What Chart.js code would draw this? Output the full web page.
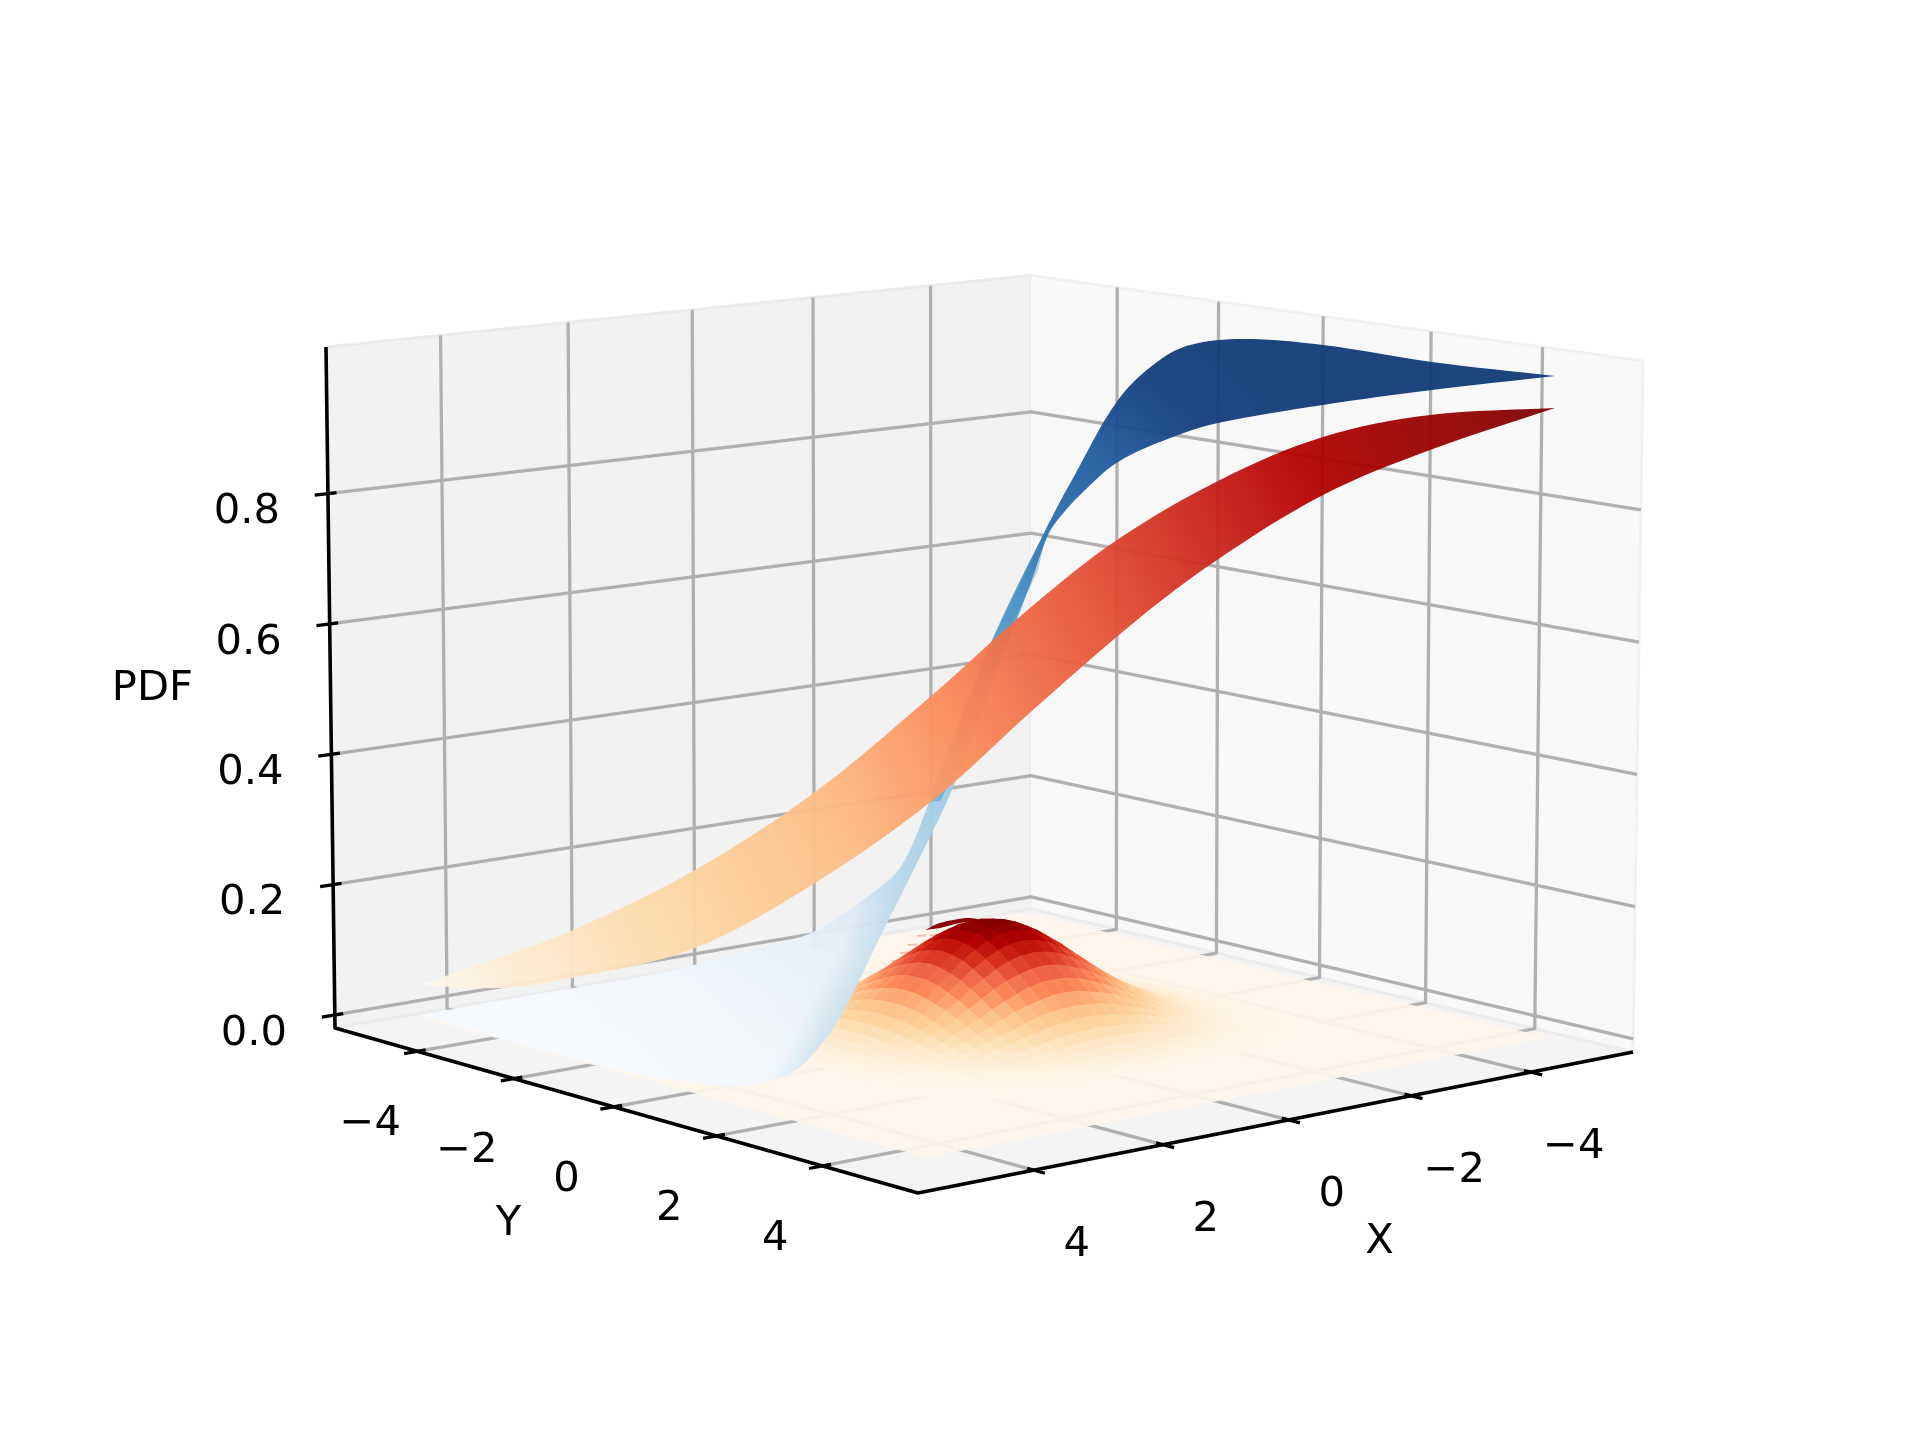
<!DOCTYPE html>
<html>
<head>
<meta charset="utf-8">
<title>PDF surface</title>
<script src="https://cdn.jsdelivr.net/npm/chart.js@4"></script>
<style>
  body { margin: 0; background: #fff; }
  canvas { display: block; }
</style>
</head>
<body>
<canvas id="surfaceChart" width="1920" height="1440"></canvas>
<script>
// --- Axis data ---
const xTicks = [-4, -2, 0, 2, 4];
const yTicks = [-4, -2, 0, 2, 4];
const zTicks = [0, 0.2, 0.4, 0.6, 0.8];
const xTickLabels = ["\u22124", "\u22122", "0", "2", "4"];
const yTickLabels = ["\u22124", "\u22122", "0", "2", "4"];
const zTickLabels = ["0.0", "0.2", "0.4", "0.6", "0.8"];
const axisLimit = 5.75;
const zMin = -0.02;
const zMax = 1.025;
const sheetLimit = 5;

const pdfStep = 0.2;
const pdfPeak = 0.159;
const pdfCentreX = -0.2;
const pdfHeights = [
  [.159, .157, .150, .139, .125, .109, .092, .076, .060, .047, .035, .025, .018, .012, .008, .005, .003],
  [.157, .154, .148, .137, .123, .107, .091, .075, .059, .046, .034, .025, .018, .012, .008, .005, .003],
  [.150, .148, .141, .131, .118, .102, .087, .071, .057, .044, .033, .024, .017, .012, .008, .005, .003],
  [.139, .137, .131, .121, .109, .095, .080, .066, .053, .041, .031, .022, .016, .011, .007, .005, .003],
  [.125, .123, .118, .109, .098, .086, .072, .060, .047, .037, .027, .020, .014, .010, .006, .004, .002],
  [.109, .107, .102, .095, .086, .075, .063, .052, .041, .032, .024, .017, .012, .008, .006, .003, .002],
  [.092, .091, .087, .080, .072, .063, .053, .044, .035, .027, .020, .015, .010, .007, .005, .003, .002],
  [.076, .075, .071, .066, .060, .052, .044, .036, .029, .022, .017, .012, .009, .006, .004, .003, .002],
  [.060, .059, .057, .053, .047, .041, .035, .029, .023, .018, .013, .010, .007, .005, .003, .002, .001],
  [.047, .046, .044, .041, .037, .032, .027, .022, .018, .014, .010, .007, .005, .004, .002, .001, .001],
  [.035, .034, .033, .031, .027, .024, .020, .017, .013, .010, .008, .006, .004, .003, .002, .001, .001],
  [.025, .025, .024, .022, .020, .017, .015, .012, .010, .007, .006, .004, .003, .002, .001, .001, 0],
  [.018, .018, .017, .016, .014, .012, .010, .009, .007, .005, .004, .003, .002, .001, .001, .001, 0],
  [.012, .012, .012, .011, .010, .008, .007, .006, .005, .004, .003, .002, .001, .001, .001, 0, 0],
  [.008, .008, .008, .007, .006, .006, .005, .004, .003, .002, .002, .001, .001, .001, 0, 0, 0],
  [.005, .005, .005, .005, .004, .003, .003, .003, .002, .001, .001, .001, .001, 0, 0, 0, 0],
  [.003, .003, .003, .003, .002, .002, .002, .002, .001, .001, .001, 0, 0, 0, 0, 0, 0]
];

// --- Marginal ribbons, outlines ---
const redUpperX = [420, 500, 573, 695, 815, 930, 1030, 1117, 1220, 1323, 1430, 1555];
const redUpperY = [985, 957, 930, 870, 792, 697, 608, 540, 480, 437, 415, 408];
const redLowerX = [1555, 1430, 1323, 1217, 1137, 1033, 933, 815, 695, 573, 500, 420];
const redLowerY = [408, 450, 495, 560, 620, 710, 800, 883, 948, 978, 988, 985];

const blueUpperX = [1555, 1432, 1323, 1243, 1190, 1157, 1118, 1072, 1048, 990, 930, 900, 867, 813, 740, 640, 573, 447, 420];
const blueUpperY = [376, 362, 345, 339, 345, 362, 400, 480, 525, 645, 800, 868, 897, 932, 953, 977, 988, 1010, 1015];
const blueLowerX = [420, 507, 640, 690, 733, 773, 800, 830, 853, 880, 907, 952, 990, 1030, 1048, 1060, 1080, 1118, 1173, 1218, 1323, 1432, 1555];
const blueLowerY = [1015, 1040, 1075, 1082, 1087, 1080, 1067, 1033, 993, 937, 883, 790, 690, 585, 535, 517, 495, 462, 437, 423, 405, 390, 376];

// darker left side of the narrow blue band, paler shade along the foot of the sheet
const blueCreaseX = [1050, 1027, 990, 960, 930, 941, 972, 1003, 1038];
const blueCreaseY = [520, 570, 645, 720, 800, 800, 720, 645, 570];
const blueFootX = [933, 907, 880, 853, 830, 800, 773, 733, 760, 830, 900];
const blueFootY = [830, 883, 937, 993, 1033, 1067, 1080, 1087, 1000, 930, 868];

// --- Rim of the bump seen through the sheet ---
const domeBackX = [925, 940, 967, 980, 960, 940];
const domeBackY = [930, 923, 918, 920, 923, 928];
const hatchStartX = [917, 908, 900, 892, 884, 876, 868];
const hatchRowY = [936, 945, 953, 961, 969, 977, 985];

// --- Colours ---
const orRd = ["#fff7ec", "#fee8c8", "#fdd49e", "#fdbb84", "#fc8d59", "#ef6548", "#d7301f", "#b30000", "#7f0000"];
const redStopAt = [0, 0.06, 0.225, 0.35, 0.46, 0.62, 0.8, 1];
const redStops = ["#fff7ec", "#feeed8", "#fdd49e", "#fdbb84", "#fc8d59", "#e34a33", "#b30000", "#7f0000"];
const blueStopAt = [0, 0.13, 0.25, 0.3, 0.36, 0.41, 0.51, 0.64, 0.72, 0.81, 0.9, 1];
const blueStops = ["#f5f9fe", "#f0f6fc", "#e6eff9", "#d8e6f4", "#b7d6ea", "#a5cfe6", "#8fc2de", "#5ba3d0", "#2c6fb0", "#1f5a9e", "#123d7c", "#0f3a75"];

const floorCorners = [[335, 1028], [1031, 909], [1633, 1052], [918, 1193]];
const topCorners = [[326, 347], [1031, 275.5], [1643, 361], [920, 447.5]];

// --- 3D box to picture ---
function squareToQuad(q) {
    const [[x0, y0], [x1, y1], [x2, y2], [x3, y3]] = q;
    const dx1 = x1 - x2, dx2 = x3 - x2, sx = x0 - x1 + x2 - x3;
    const dy1 = y1 - y2, dy2 = y3 - y2, sy = y0 - y1 + y2 - y3;
    const den = dx1 * dy2 - dx2 * dy1;
    const g = (sx * dy2 - dx2 * sy) / den;
    const h = (dx1 * sy - sx * dy1) / den;
    const a = x1 - x0 + g * x1, b = x3 - x0 + h * x3;
    const d = y1 - y0 + g * y1, e = y3 - y0 + h * y3;
    return (u, v) => {
        const w = g * u + h * v + 1;
        return [(a * u + b * v + x0) / w, (d * u + e * v + y0) / w];
    };
}
const floorMap = squareToQuad(floorCorners);
const topMap = squareToQuad(topCorners);

function project(x, y, z) {
    const u = (axisLimit - x) / (2 * axisLimit);
    const v = (y + axisLimit) / (2 * axisLimit);
    const f = (z - zMin) / (zMax - zMin);
    const p0 = floorMap(u, v), p1 = topMap(u, v);
    return { x: p0[0] + (p1[0] - p0[0]) * f, y: p0[1] + (p1[1] - p0[1]) * f };
}

// --- Dataset helpers ---
const paintList = [];

function addLine(points, color, width, dash) {
    paintList.push({ data: points, showLine: true, pointRadius: 0, borderColor: color, borderWidth: width, borderJoinStyle: "round", borderDash: dash || [], fill: false });
}
function addShape(points, color, border, borderWidth, tension) {
    paintList.push({
        data: points, showLine: true, pointRadius: 0, fill: "shape", backgroundColor: color,
        borderColor: border || "transparent", borderWidth: borderWidth || 0, tension: tension || 0
    });
}
function zipXY(xs, ys) {
    return xs.map((x, i) => ({ x: x, y: ys[i] }));
}
function gradient(x0, y0, x1, y1, at, colors, alpha) {
    return (c) => {
        const s = c.chart.scales;
        const px0 = s.x.getPixelForValue(x0);
        // scales have no pixels yet on the first pass before layout
        if (!Number.isFinite(px0)) return colors[0];
        const g = c.chart.ctx.createLinearGradient(px0, s.y.getPixelForValue(y0), s.x.getPixelForValue(x1), s.y.getPixelForValue(y1));
        at.forEach((t, i) => g.addColorStop(t, colors[i] + alpha));
        return g;
    };
}
function mixColor(t) {
    const p = Math.min(t, 1) * (orRd.length - 1);
    const i = Math.min(Math.floor(p), orRd.length - 2);
    const a = parseInt(orRd[i].slice(1), 16), b = parseInt(orRd[i + 1].slice(1), 16);
    const f = p - i;
    const ch = (s) => Math.round(((a >> s) & 255) * (1 - f) + ((b >> s) & 255) * f);
    return `rgb(${ch(16)},${ch(8)},${ch(0)})`;
}

// --- Panes ---
const L = axisLimit;
addShape([project(L, -L, zMin), project(-L, -L, zMin), project(-L, -L, zMax), project(L, -L, zMax)], "#f2f2f2", "#ebebeb", 3);
addShape([project(-L, -L, zMin), project(-L, L, zMin), project(-L, L, zMax), project(-L, -L, zMax)], "#f8f8f8", "#f1f1f1", 3);
addShape([project(L, -L, zMin), project(-L, -L, zMin), project(-L, L, zMin), project(L, L, zMin)], "#f4f4f4", "#ececec", 3);

// --- Grid lines ---
xTicks.forEach((t) => addLine([project(t, -L, zMax), project(t, -L, zMin), project(t, L, zMin)], "#b0b0b0", 3.3));
yTicks.forEach((t) => addLine([project(-L, t, zMax), project(-L, t, zMin), project(L, t, zMin)], "#b0b0b0", 3.3));
zTicks.forEach((t) => addLine([project(L, -L, t), project(-L, -L, t), project(-L, L, t)], "#b0b0b0", 3.3));

// --- Axis lines and ticks ---
addLine([project(L, -L, zMax), project(L, -L, zMin), project(L, L, zMin), project(-L, L, zMin)], "#000", 3.6);
xTicks.forEach((t) => addLine([project(t, L - 0.12, zMin), project(t, L + 0.2, zMin)], "#000", 3.3));
yTicks.forEach((t) => addLine([project(L - 0.13, t, zMin), project(L + 0.2, t, zMin)], "#000", 3.3));
zTicks.forEach((t) => addLine([project(L - 0.13, -L, t), project(L + 0.2, -L, t)], "#000", 3.3));

// --- Sheet under the bump ---
const S = sheetLimit;
addShape([project(S, -S, 0), project(-S, -S, 0), project(-S, S, 0), project(S, S, 0)], "#fff5eaee");
hatchStartX.forEach((x, i) => addLine([{ x: x, y: hatchRowY[i] }, { x: x + 120, y: hatchRowY[i] - 6 }], "#f3c0ae", 2, [9, 3]));
addShape(zipXY(domeBackX, domeBackY), "#8a0505", null, 0, 0.3);

// --- Bump facets, painted back to front ---
const facets = [];
const n = pdfHeights.length - 1;
const heightAt = (i, j) => pdfHeights[Math.abs(i)][Math.abs(j)];
for (let i = -n; i < n; i++) {
    for (let j = -n; j < n; j++) {
        const x0 = pdfCentreX + i * pdfStep, x1 = x0 + pdfStep, y0 = j * pdfStep, y1 = y0 + pdfStep;
        const mean = (heightAt(i, j) + heightAt(i + 1, j) + heightAt(i + 1, j + 1) + heightAt(i, j + 1)) / 4;
        facets.push({
            depth: x0 * 0.64 + y0 * 0.77,
            color: mixColor(mean / pdfPeak),
            points: [project(x0, y0, heightAt(i, j)), project(x1, y0, heightAt(i + 1, j)), project(x1, y1, heightAt(i + 1, j + 1)), project(x0, y1, heightAt(i, j + 1))]
        });
    }
}
facets.sort((a, b) => a.depth - b.depth);
facets.forEach((f) => addShape(f.points, f.color, f.color, 0.6));

// --- Ribbons ---
addShape(zipXY(blueUpperX.concat(blueLowerX), blueUpperY.concat(blueLowerY)),
    gradient(640, 1100, 1250, 340, blueStopAt, blueStops, "f0"), null, 0, 0.35);
addShape(zipXY(blueFootX, blueFootY),
    gradient(825, 975, 855, 991, [0, 1], ["#a9d0e600", "#a9d0e680"], ""), null, 0, 0.3);
addShape(zipXY(blueCreaseX, blueCreaseY), "#2c74b455", null, 0, 0.2);
addShape(zipXY(redUpperX.concat(redLowerX), redUpperY.concat(redLowerY)),
    gradient(422, 986, 1556, 408, redStopAt, redStops, "f0"), null, 0, 0.35);

// --- Text ---
const tickTextPlugin = {
    id: "tickText",
    afterDraw(chart) {
        const ctx = chart.ctx, sx = chart.scales.x, sy = chart.scales.y;
        const put = (text, p, dx, dy) => ctx.fillText(text, sx.getPixelForValue(p.x + dx), sy.getPixelForValue(p.y + dy));
        ctx.save();
        ctx.fillStyle = "#000";
        ctx.font = "41.67px 'DejaVu Sans'";
        ctx.textAlign = "center";
        ctx.textBaseline = "middle";
        xTicks.forEach((t, i) => put(xTickLabels[i], project(t, L, zMin), 43, 75));
        yTicks.forEach((t, i) => put(yTickLabels[i], project(L, t, zMin), -47, 73));
        zTicks.forEach((t, i) => put(zTickLabels[i], project(L, -L, t), -81, 19));
        put("X", project(0, L, zMin), 91, 122);
        put("Y", project(L, 0, zMin), -105, 117);
        put("PDF", project(L, -L, 0.4), -179, -65);
        ctx.restore();
    }
};

new Chart(document.getElementById("surfaceChart"), {
    type: "scatter",
    data: { datasets: paintList.slice().reverse() },
    options: {
        responsive: false,
        animation: false,
        parsing: false,
        normalized: true,
        layout: { padding: 0 },
        plugins: { legend: { display: false }, tooltip: { enabled: false } },
        events: [],
        scales: {
            x: { type: "linear", display: false, min: 0, max: 1920 },
            y: { type: "linear", display: false, min: 0, max: 1440, reverse: true }
        }
    },
    plugins: [tickTextPlugin]
});
</script>
</body>
</html>
